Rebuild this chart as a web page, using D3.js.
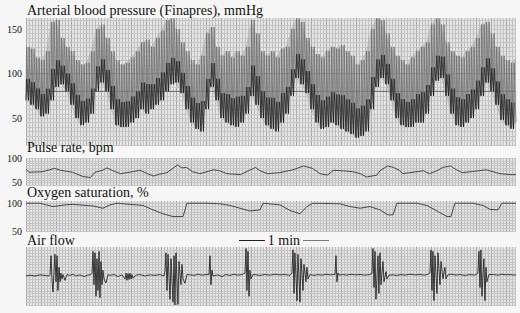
<!DOCTYPE html>
<html><head><meta charset="utf-8">
<script src="https://cdn.jsdelivr.net/npm/d3@7"></script>
<style>
html,body{margin:0;padding:0;background:#f6f6f6;}
svg{display:block;}
text{font-family:"Liberation Serif","Times New Roman",serif;fill:#111;}
</style></head>
<body><svg id="c" width="520" height="313"></svg>
<script>
// ---- data (time in seconds, 0 = left edge of recording) ----
const totalTime = 326.7;
// arterial pressure envelope, one value every totalTime/98 s
const bpSys = [130,128,118,115,125,158,160,140,130,125,115,110,112,125,150,155,140,125,115,110,112,118,125,135,138,130,140,148,160,162,150,135,125,115,110,120,145,152,130,120,125,118,125,120,130,160,145,125,120,125,118,128,130,150,162,158,140,130,122,118,125,130,128,132,125,120,110,115,125,150,162,160,145,130,120,115,110,118,125,130,135,155,162,155,135,125,120,118,125,130,140,155,158,145,130,120,115,112,118];
const bpDia = [70,65,60,52,55,70,85,88,80,65,50,42,45,55,80,90,80,60,42,40,40,45,50,60,55,60,65,70,80,88,90,78,60,45,38,35,60,85,70,50,45,42,40,45,55,75,65,50,42,38,35,45,55,75,95,88,78,60,45,38,40,45,42,38,35,32,28,30,35,60,85,95,88,70,50,42,40,40,45,45,55,75,92,95,75,55,42,40,45,50,60,75,90,80,65,48,42,38,45];
// pulse rate (bpm)
const prTime = [0,2,11,19,23,27,31,38,43,46,51,54,58,63,71,76,81,85,89,94,101,104,107,111,116,125,129,134,143,153,156,161,169,178,185,191,196,201,205,211,218,223,227,234,236,241,245,249,251,265,269,274,278,283,287,291,307,316,323,326.7];
const prVal  = [77,71,72,79,75,73,71,62,60,71,75,80,74,68,72,75,68,63,67,70,86,80,81,72,68,76,74,68,66,81,74,68,70,76,84,79,68,65,75,74,72,68,61,65,74,84,81,75,68,74,68,74,81,84,76,70,76,68,66,66];
// oxygen saturation (%)
const o2Time = [0,9.3,18,26,31.3,44.7,51.3,56,60.7,78,84.7,91.3,98,104.7,107.3,120.7,129.3,136,142.7,149.3,156,158,169.3,176,182.7,187.3,191.3,209.3,216,222.7,229.3,236,241.3,244.7,247.3,260.7,267.3,274,280.7,283.3,286,298,304.7,309.3,314.7,317.3,326.7];
const o2Val  = [100,100,94,97,98,95,91,97,100,96,88,81,76,76,100,100,99,96,91,86,88,100,97,87,81,94,100,99,94,91,94,88,79,79,100,100,96,86,76,76,100,100,96,89,88,100,100];
// air flow (arbitrary units)
const afTime = [0,2.7,6,9.3,12.7,15.3,16,16.7,17.3,18,18.7,19.3,20,20.7,21.3,22,22.7,23.3,24,24.7,26,27.3,29.3,31.3,33.3,36,38.7,41.3,43.3,44,44.7,45.3,46,46.7,47.3,48,48.7,49.3,50,50.7,51.3,52,53.3,54.7,56,58.7,61.3,64,66,66.7,67.3,68,68.7,69.3,70,70.7,71.3,73.3,76,79.3,82.7,86,89.3,92,92.7,93.3,94,94.7,96,96.7,98,98.7,99.3,100,101.3,102,103.3,104,104.7,106,107.3,109.3,112,114.7,117.3,120,122,122.7,123.3,124,124.7,128,130.7,133.3,136,138.7,141.3,144,146,146.7,147.3,148,148.7,149.3,150,151.3,153.3,156,159.3,162.7,166,169.3,172.7,176,177.3,178,178.7,179.3,180.7,181.3,182.7,183.3,184.7,185.3,186.7,187.3,188,189.3,192,194.7,197.3,200,202.7,205.3,206,206.7,207.3,208,208.7,211.3,214,216.7,219.3,222.7,226,229.3,230.7,231.3,232,232.7,233.3,234.7,235.3,236,236.7,238,238.7,240,240.7,242,244.7,247.3,250,252.7,256,259.3,262.7,266,268,269.3,270,270.7,271.3,272,272.7,274,274.7,276,276.7,278,279.3,280,281.3,284,286.7,289.3,292.7,296,299.3,301.3,302,302.7,303.3,304,305.3,306,306.7,307.3,308.7,312,314.7,317.3,320,322.7,325.3,326.7];
const afVal  = [0,0.03,0,0.04,0.02,0,0.05,0.7,-0.1,-0.55,0.2,0.75,-0.2,0.7,-0.5,0.3,-0.2,0.1,-0.1,0.05,-0.15,0.05,0.02,0.06,0,0.04,-0.02,0.03,0.05,0.1,0.85,-0.3,0.8,-0.7,0.6,-0.5,0.85,-0.75,0.5,-0.3,0.2,-0.1,-0.24,0.05,0.02,0.05,-0.02,0.04,-0.1,0.1,-0.15,0.08,-0.12,0.1,-0.1,0.05,-0.08,0.03,0.05,0,0.04,0.02,0.05,0,0.2,0.8,-0.5,0.75,-0.8,0.6,-0.9,0.7,-1.0,0.8,-0.98,0.5,-0.3,0.4,-0.1,-0.25,0.05,0.04,0.02,0.06,0.03,0.05,0.05,0.7,-0.3,0.2,0,0.04,-0.02,0.05,0.02,0.06,0.03,0.05,0.1,0.95,-0.5,0.85,-0.7,0.2,-0.1,0.05,0.04,0.02,0.05,0.03,0.06,0.04,0.05,0.02,0.1,0.9,-0.6,0.8,-0.85,0.75,-0.9,0.6,-0.5,0.4,-0.2,0.3,-0.1,0.05,0.02,0.05,0.03,0.06,0.04,0.05,0.05,0.7,-0.2,0.1,0.03,0.05,0.03,0.06,0.04,0.05,0.03,0.05,0.1,0.95,-0.4,0.85,-0.8,0.7,-0.6,0.8,-0.3,0.5,-0.2,0.15,-0.1,0.03,0.04,0.02,0.05,0.03,0.06,0.04,0.05,0.03,0.06,0.1,0.9,-0.5,0.85,-0.85,0.7,-0.6,0.8,-0.3,0.5,-0.1,0.3,-0.1,0.04,0.06,0.03,0.05,0.02,0.05,0.03,0.1,0.85,-0.4,0.9,-0.7,0.6,-0.85,0.3,-0.2,0.05,0.05,0.03,0.06,0.04,0.05,0.03,0.04];
const bpTicks = [50,100,150], prTicks = [50,100], o2Ticks = [50,100];
const titles = ["Arterial blood pressure (Finapres), mmHg","Pulse rate, bpm","Oxygen saturation, %","Air flow"];
const scaleBar = {start:142, length:60, label:"1 min"};

// ---- drawing ----
const svg = d3.select("#c");
const x = d3.scaleLinear().domain([0,totalTime]).range([26,516]);
const panels = [
  {y:d3.scaleLinear().domain([19.7,162.4]).range([145,18]), hstep:5, title:titles[0], ty:14.5, ticks:bpTicks},
  {y:d3.scaleLinear().domain([44.4,100.6]).range([185,158]), hstep:5, title:titles[1], ty:152, ticks:prTicks},
  {y:d3.scaleLinear().domain([48.2,104]).range([232,201]), hstep:5, title:titles[2], ty:197, ticks:o2Ticks},
  {y:d3.scaleLinear().domain([-1,1]).range([305,247]), hstep:0.1, title:titles[3], ty:245, ticks:[]}
];
panels.forEach((p,k)=>{
  const g = svg.append("g");
  const [d0,d1] = p.y.domain();
  g.append("rect").attr("x",x(0)).attr("y",p.y(d1)).attr("width",x(totalTime)-x(0)).attr("height",p.y(d0)-p.y(d1)).attr("fill","#e6e6e6");
  g.selectAll(".v").data(d3.range(0,totalTime,2)).join("line")
    .attr("x1",d=>x(d)+0.5).attr("x2",d=>x(d)+0.5).attr("y1",p.y(d1)).attr("y2",p.y(d0))
    .attr("stroke",(d,i)=> i%5===0?"#a4a4a4":"#bdbdbd").attr("stroke-width",1);
  const hs = d3.range(Math.ceil(d0/p.hstep)*p.hstep, d1, p.hstep);
  g.selectAll(".h").data(hs).join("line")
    .attr("x1",x(0)).attr("x2",x(totalTime)).attr("y1",d=>Math.round(p.y(d))+0.5).attr("y2",d=>Math.round(p.y(d))+0.5)
    .attr("stroke","#c6c6c6").attr("stroke-width",1);
  g.append("text").attr("x",27).attr("y",p.ty).attr("font-size",14).text(p.title);
  if(p.ticks.length){
    const ax = svg.append("g").attr("transform",`translate(${x(0)},0)`)
      .call(d3.axisLeft(p.y).tickValues(p.ticks).tickSize(0).tickPadding(4));
    ax.select(".domain").remove();
    ax.selectAll("text").attr("font-size",10).attr("fill","#111");
  }
});
// darker reference lines in pressure panel
const bpY = panels[0].y;
svg.append("line").attr("x1",x(0)).attr("x2",x(totalTime)).attr("y1",bpY(100)).attr("y2",bpY(100)).attr("stroke","#999");
svg.append("line").attr("x1",x(0)).attr("x2",x(totalTime)).attr("y1",bpY(80)).attr("y2",bpY(80)).attr("stroke","#666");

// pressure
const bpStep = totalTime/(bpSys.length-1);
const bp = bpSys.map((s,i)=>({t:i*bpStep, s, d:bpDia[i]}));
svg.append("path").datum(bp)
  .attr("d", d3.area().x(d=>x(d.t)).y0(d=>bpY(d.d)).y1(d=>bpY(d.s)))
  .attr("fill","#a0a0a0").attr("opacity",0.45);
// each sample drawn as two pressure pulses up to systolic
let spk = "", blk = "";
bp.forEach((d,i)=>{
  if(i===bp.length-1) return;
  const n = bp[i+1];
  const hi = d.d + (d.s-d.d)*0.4;
  [0,0.5].forEach(o=>{
    spk += `M${x(d.t+bpStep*o)},${bpY(d.d)}L${x(d.t+bpStep*(o+0.12))},${bpY(d.s)}L${x(d.t+bpStep*(o+0.3))},${bpY((d.s+d.d)/2)}L${x(d.t+bpStep*(o+0.5))},${bpY(o?n.d:d.d)}`;
    blk += (i||o?"L":"M")+`${x(d.t+bpStep*o)},${bpY(d.d)}L${x(d.t+bpStep*(o+0.15))},${bpY(hi)}`;
  });
});
svg.append("path").attr("d",spk).attr("fill","none").attr("stroke","#6e6e6e").attr("stroke-width",0.8);
svg.append("path").attr("d",blk).attr("fill","none").attr("stroke","#151515").attr("stroke-width",0.7);

// pulse
svg.append("path").datum(prTime.map((t,i)=>[t,prVal[i]]))
  .attr("d",d3.line().x(d=>x(d[0])).y(d=>panels[1].y(d[1])))
  .attr("fill","none").attr("stroke","#222").attr("stroke-width",0.8);
// oxygen
svg.append("path").datum(o2Time.map((t,i)=>[t,o2Val[i]]))
  .attr("d",d3.line().x(d=>x(d[0])).y(d=>panels[2].y(d[1])))
  .attr("fill","none").attr("stroke","#222").attr("stroke-width",0.8);
// air flow
svg.append("path").datum(afTime.map((t,i)=>[t,afVal[i]]))
  .attr("d",d3.line().x(d=>x(d[0])).y(d=>panels[3].y(d[1])))
  .attr("fill","none").attr("stroke","#111").attr("stroke-width",0.8);

// scale bar
const sbY = 240.5;
const sx0 = x(scaleBar.start), sx1 = x(scaleBar.start+scaleBar.length), sxm=(sx0+sx1)/2;
svg.append("line").attr("x1",sx0).attr("x2",sxm-19).attr("y1",sbY).attr("y2",sbY).attr("stroke","#222");
svg.append("line").attr("x1",sxm+19).attr("x2",sx1).attr("y1",sbY).attr("y2",sbY).attr("stroke","#777");
svg.append("text").attr("x",sxm).attr("y",245).attr("text-anchor","middle").attr("font-size",14).text(scaleBar.label);
</script></body></html>
